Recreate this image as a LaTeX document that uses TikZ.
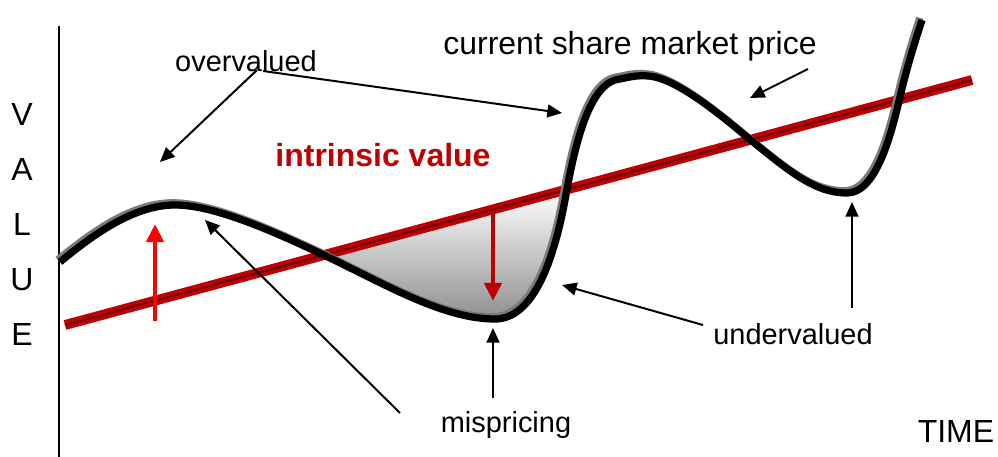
\documentclass[tikz,border=0pt]{standalone}
\usepackage{fontspec}
\setmainfont{Liberation Sans}
\usetikzlibrary{arrows.meta}
\definecolor{ivred}{HTML}{C00000}
\definecolor{ivlight}{HTML}{E06A6A}
\definecolor{ivdark}{HTML}{800000}
\definecolor{brightred}{HTML}{FF0000}
\definecolor{shadowgray}{HTML}{7A7A7A}
\begin{document}
\begin{tikzpicture}[x=0.03cm,y=-0.03cm,
  lbl/.style={font=\fontsize{24.7}{28}\selectfont, inner sep=0pt, anchor=base},
  biglbl/.style={font=\fontsize{27.3}{31}\selectfont, inner sep=0pt, anchor=base},
  ptr/.style={line width=1.7pt, -{Triangle[length=12.5pt,width=11pt]}},
  redptr/.style={line width=4.2pt, -{Triangle[length=15.5pt,width=14.5pt]}},
  pricecurve/.style={line width=6.2pt, line cap=butt, line join=round}]
\useasboundingbox (0,0) rectangle (998,457);

% axis
\coordinate (axtop) at (59,26);
\coordinate (axbot) at (59,457);
\draw[line width=1.2pt] (axtop) -- (axbot);

% axis letters
\node[biglbl] (lv) at (22,126) {V};
\node[biglbl] (la) at (22,181) {A};
\node[biglbl] (ll) at (22,236) {L};
\node[biglbl] (lu) at (22,291) {U};
\node[biglbl] (le) at (22,346) {E};
\node[biglbl] (time) at (956,442) {TIME};

% intrinsic value line
\coordinate (r1) at (65,325);
\coordinate (r2) at (972,80);

% shaded mispricing area
\begin{scope}
  \clip (r1) -- (r2) -- (972,457) -- (65,457) -- cycle;
  \clip (60,262) .. controls (95,233) and (135,205) .. (175,205)
     .. controls (215,205) and (275,232) .. (330,258)
     .. controls (390,287) and (445,319) .. (495,319)
     .. controls (530,319) and (552,270) .. (565,200)
     .. controls (574,150) and (588,82) .. (620,79)
     -- (620,0) -- (60,0) -- cycle;
  \shade[top color=white, bottom color=black!45] (300,190) rectangle (600,322);
\end{scope}

\draw[line width=8.4pt, ivred] (r1) -- (r2);
\draw[line width=2pt, ivlight, shift={(-1,-3)}] (r1) -- (r2);
\draw[line width=2.4pt, ivdark, shift={(1,3)}] (r1) -- (r2);

% red arrows
\coordinate (up1) at (155,321);
\coordinate (up2) at (155,224);
\coordinate (dn1) at (493,211);
\coordinate (dn2) at (493,301);
\draw[redptr, brightred] (up1) -- (up2);
\draw[redptr, ivred] (dn1) -- (dn2);

% price curve (grey highlight, then black)
\foreach \dx/\dy/\col in {-2.2/-2.2/shadowgray, 0/0/black} {
  \draw[pricecurve, draw=\col, shift={(\dx,\dy)}]
     (60,262) .. controls (95,233) and (135,205) .. (175,205)
     .. controls (215,205) and (275,232) .. (330,258)
     .. controls (390,287) and (445,319) .. (495,319)
     .. controls (530,319) and (552,270) .. (565,200)
     .. controls (574,150) and (588,82) .. (620,79)
     .. controls (630,77) and (640,74) .. (655,77)
     .. controls (680,83) and (715,110) .. (747,137)
     .. controls (790,172) and (815,193) .. (847,193)
     .. controls (875,193) and (890,140) .. (900,97)
     .. controls (908,63) and (915,42) .. (922,20);
}

% labels
\node[lbl] (over) at (246,72) {overvalued};
\node[biglbl] (cur) at (630,55) {current share market price};
\node[biglbl, text=ivred, font=\fontsize{27.3}{31}\selectfont\bfseries] (iv) at (383,167) {intrinsic value};
\node[lbl] (mis) at (506,432) {mispricing};
\node[lbl] (under) at (793,345) {undervalued};

% pointer arrows
\coordinate (ovs1) at (257,70);
\coordinate (ovt1) at (160,162);
\coordinate (ovs2) at (263,71);
\coordinate (ovt2) at (562,113);
\coordinate (cus) at (808,69);
\coordinate (cut) at (750,98);
\coordinate (mss1) at (400,413);
\coordinate (mst1) at (205,220);
\coordinate (mss2) at (493,398);
\coordinate (mst2) at (493,328);
\coordinate (uns1) at (703,325);
\coordinate (unt1) at (562,285);
\coordinate (uns2) at (852,308);
\coordinate (unt2) at (852,202);
\draw[ptr] (ovs1) -- (ovt1);
\draw[ptr] (ovs2) -- (ovt2);
\draw[ptr] (cus) -- (cut);
\draw[ptr] (mss1) -- (mst1);
\draw[ptr] (mss2) -- (mst2);
\draw[ptr] (uns1) -- (unt1);
\draw[ptr] (uns2) -- (unt2);
\end{tikzpicture}
\end{document}
